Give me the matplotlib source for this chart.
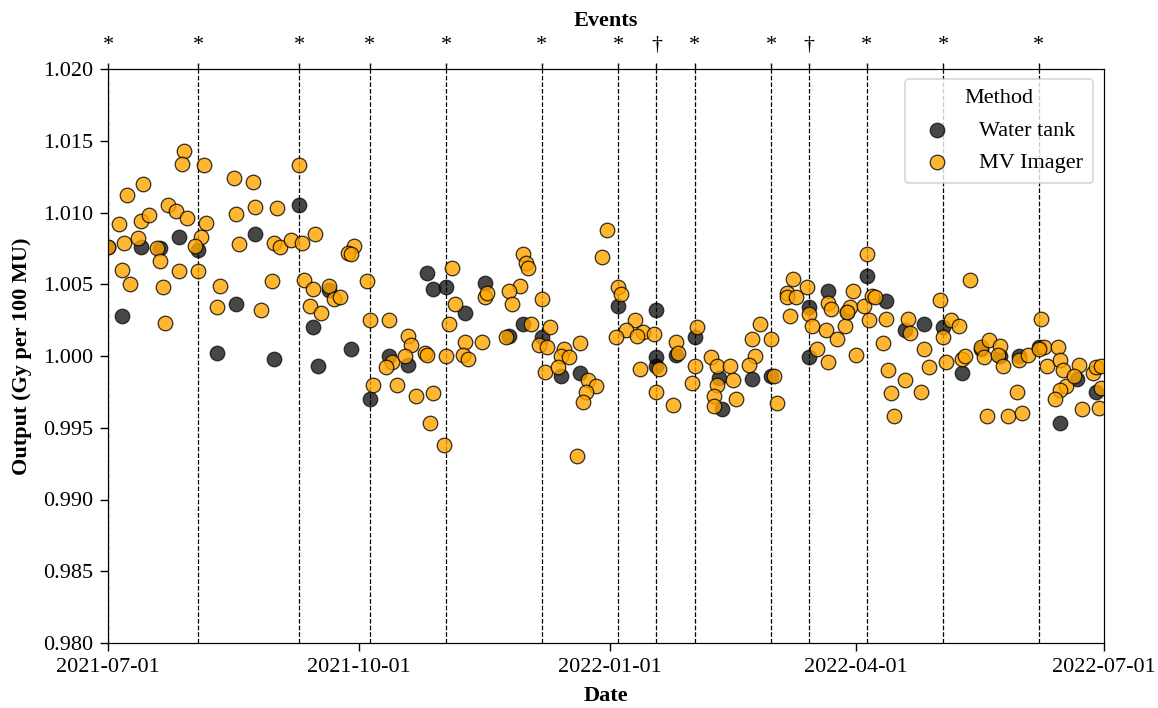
import datetime as dt
import matplotlib
matplotlib.use("Agg")
import matplotlib.pyplot as plt
import matplotlib.dates as mdates

plt.rcParams['font.family'] = ['Liberation Serif', 'DejaVu Serif']
plt.rcParams['font.size'] = 15

START = dt.date(2021, 7, 1)

# Water tank measurements (days since 2021-07-01, output)
wt_day = [0, 5, 12, 19, 26, 33, 40, 47, 54, 61, 70, 75, 77, 81, 89, 96, 103, 110, 117, 119,
          124, 131, 138, 147, 152, 159, 166, 173, 187, 201, 201, 201, 208, 215, 224, 225, 236, 243, 257, 257,
          264, 271, 278, 285, 292, 299, 306, 313, 320, 327, 334, 341, 349, 355, 362]
wt_val = [1.0076, 1.0028, 1.0076, 1.0075, 1.0083, 1.0074, 1.0002, 1.0036, 1.0085, 0.9998,
          1.0105, 1.0020, 0.9993, 1.0046, 1.0005, 0.9970, 1.0000, 0.9994, 1.0058, 1.0047,
          1.0048, 1.0030, 1.0051, 1.0014, 1.0022, 1.0013, 0.9986, 0.9988, 1.0035, 1.0032,
          0.9999, 0.9993, 1.0001, 1.0013, 0.9985, 0.9963, 0.9984, 0.9986, 1.0034, 0.9999,
          1.0045, 1.0031, 1.0056, 1.0038, 1.0018, 1.0022, 1.0020, 0.9988, 1.0005, 1.0000,
          1.0000, 1.0006, 0.9953, 0.9984, 0.9975]

# MV imager measurements (days since 2021-07-01, output)
mv_day = [0, 4, 7, 13, 6, 5, 8, 12, 15, 11, 18, 19, 20, 21, 22, 25, 26, 28, 27, 29,
          35, 36, 34, 32, 33, 41, 40, 46, 47, 48, 53, 54, 60, 56, 62, 61, 63, 67, 70, 71,
          76, 90, 88, 89, 72, 75, 81, 83, 85, 74, 78, 95, 96, 103, 97, 104, 102, 110, 111, 109,
          106, 113, 119, 116, 117, 118, 123, 126, 127, 125, 124, 131, 137, 130, 132, 138, 139,
          152, 153, 154, 151, 147, 148, 159, 155, 146, 162, 158, 161, 160, 167, 166, 169, 173, 165,
          176, 179, 175, 174, 172, 183, 181, 187, 188, 193, 190, 186, 196, 194, 200, 202, 195, 201,
          207, 208, 209, 216, 215, 214, 221, 223, 228, 223, 222, 222, 229, 230, 236, 239, 237, 235,
          243, 244, 245, 251, 249, 249, 252, 256, 250, 257, 258, 260, 264, 265, 263, 267, 264,
          273, 270, 272, 271, 277, 274, 278, 279, 280, 281, 285, 284, 286, 287, 288, 293, 294, 292,
          298, 299, 301, 305, 306, 307, 309, 312, 316, 313, 314, 320, 321, 323, 327, 326, 328, 322,
          330, 335, 333, 334, 337, 342, 343, 341, 344, 348, 349, 350, 356, 351, 349, 347, 354, 357,
          361, 362, 364, 364, 363]
mv_val = [1.0076, 1.0092, 1.0112, 1.0120, 1.0079, 1.0060, 1.0050, 1.0094, 1.0098, 1.0082,
          1.0075, 1.0066, 1.0048, 1.0023, 1.0105, 1.0101, 1.0059, 1.0143, 1.0134, 1.0096,
          1.0133, 1.0093, 1.0083, 1.0077, 1.0059, 1.0049, 1.0034, 1.0124, 1.0099, 1.0078,
          1.0121, 1.0104, 1.0052, 1.0032, 1.0103, 1.0079, 1.0076, 1.0081, 1.0133, 1.0079,
          1.0085, 1.0077, 1.0072, 1.0071, 1.0053, 1.0047, 1.0049, 1.0040, 1.0041, 1.0035,
          1.0030, 1.0052, 1.0025, 1.0025, 0.9980, 0.9996, 0.9992, 1.0014, 1.0008, 1.0000,
          0.9980, 0.9972, 0.9974, 1.0002, 1.0001, 0.9953, 0.9938, 1.0061, 1.0036, 1.0022,
          1.0000, 1.0010, 1.0010, 1.0001, 0.9998, 1.0041, 1.0044,
          1.0071, 1.0065, 1.0061, 1.0049, 1.0045, 1.0036, 1.0040, 1.0022, 1.0013, 1.0020,
          1.0008, 1.0006, 0.9989, 1.0005, 1.0000, 0.9999, 1.0009, 0.9992,
          0.9983, 0.9979, 0.9975, 0.9968, 0.9930, 1.0088, 1.0069, 1.0048, 1.0043, 1.0025,
          1.0018, 1.0013, 1.0017, 1.0014, 1.0015, 0.9991, 0.9991, 0.9975,
          0.9966, 1.0010, 1.0002, 1.0020, 0.9993, 0.9981, 0.9999, 0.9993, 0.9993, 0.9980,
          0.9972, 0.9965, 0.9983, 0.9970, 1.0012, 1.0022, 1.0000, 0.9994,
          1.0012, 0.9986, 0.9967, 1.0054, 1.0044, 1.0041, 1.0041, 1.0048, 1.0028, 1.0029,
          1.0021, 1.0005, 1.0037, 1.0033, 1.0018, 1.0012, 0.9996,
          1.0045, 1.0021, 1.0034, 1.0031, 1.0035, 1.0001, 1.0071, 1.0025, 1.0042, 1.0041,
          1.0026, 1.0009, 0.9990, 0.9974, 0.9958, 1.0026, 1.0016, 0.9983,
          0.9975, 1.0005, 0.9992, 1.0039, 1.0013, 0.9996, 1.0025, 1.0021, 1.0053, 0.9998,
          1.0000, 1.0006, 0.9999, 1.0011, 1.0007, 1.0001, 0.9993, 0.9958,
          0.9958, 0.9960, 0.9975, 0.9997, 1.0001, 1.0026, 1.0006, 1.0005, 0.9993, 1.0006,
          0.9997, 0.9990, 0.9994, 0.9979, 0.9976, 0.9970, 0.9986, 0.9963,
          0.9988, 0.9992, 0.9993, 0.9978, 0.9964]

# Events
event_dates = ["2021-07-01", "2021-08-03", "2021-09-09", "2021-10-05", "2021-11-02",
               "2021-12-07", "2022-01-04", "2022-01-18", "2022-02-01", "2022-03-01",
               "2022-03-15", "2022-04-05", "2022-05-03", "2022-06-07"]
event_marks = ["*", "*", "*", "*", "*", "*", "*", "\u2020", "*", "*", "\u2020", "*", "*", "*"]

x_ticks = ["2021-07-01", "2021-10-01", "2022-01-01", "2022-04-01", "2022-07-01"]
y_ticks = [0.980, 0.985, 0.990, 0.995, 1.000, 1.005, 1.010, 1.015, 1.020]


def to_dates(days):
    return [START + dt.timedelta(days=d) for d in days]


def parse(s):
    return dt.datetime.strptime(s, "%Y-%m-%d").date()


fig = plt.figure(figsize=(11.58, 7.08), dpi=100)
ax = fig.add_axes([108 / 1158, 1 - 643 / 708, (1104 - 108) / 1158, (643 - 69) / 708])

ev = [parse(s) for s in event_dates]
for d in ev:
    ax.axvline(d, color='black', linestyle='--', linewidth=0.9, zorder=1)

ax.scatter(to_dates(wt_day), wt_val, s=110, color='black', alpha=0.72,
           edgecolor='black', linewidth=0.9, label='Water tank', zorder=3)
ax.scatter(to_dates(mv_day), mv_val, s=110, color='orange', alpha=0.8,
           edgecolor='black', linewidth=0.9, label='MV Imager', zorder=3)

xlim = (parse(x_ticks[0]), parse(x_ticks[-1]))
ax.set_xlim(*xlim)
ax.set_ylim(0.980, 1.020)
ax.set_xticks([parse(s) for s in x_ticks])
ax.xaxis.set_major_formatter(mdates.DateFormatter('%Y-%m-%d'))
ax.set_yticks(y_ticks)
ax.set_yticklabels([f"{v:.3f}" for v in y_ticks])
ax.tick_params(axis='both', direction='out', length=5.5, width=1, labelsize=16)
ax.tick_params(axis='x', pad=5)
ax.tick_params(axis='y', pad=5)
ax.set_xlabel("Date", fontsize=16, fontweight='bold', labelpad=7)
ax.set_ylabel("Output (Gy per 100 MU)", fontsize=16, fontweight='bold', labelpad=8)

ax2 = ax.twiny()
ax2.set_xlim(*xlim)
ax2.set_xticks(ev)
ax2.set_xticklabels(event_marks, fontsize=16)
ax2.tick_params(axis='x', direction='out', length=4, width=1, pad=6)
ax2.set_xlabel("Events", fontsize=16, fontweight='bold', labelpad=7)

leg = ax.legend(title="Method", loc='upper right', fontsize=16, title_fontsize=16,
                frameon=True, borderpad=0.45, labelspacing=0.55, handletextpad=0.9,
                borderaxespad=0.0, bbox_to_anchor=(0.989, 0.983))
leg.get_frame().set_edgecolor('#cccccc')
leg.get_frame().set_linewidth(1.2)

fig.savefig("out.png", dpi=100)
